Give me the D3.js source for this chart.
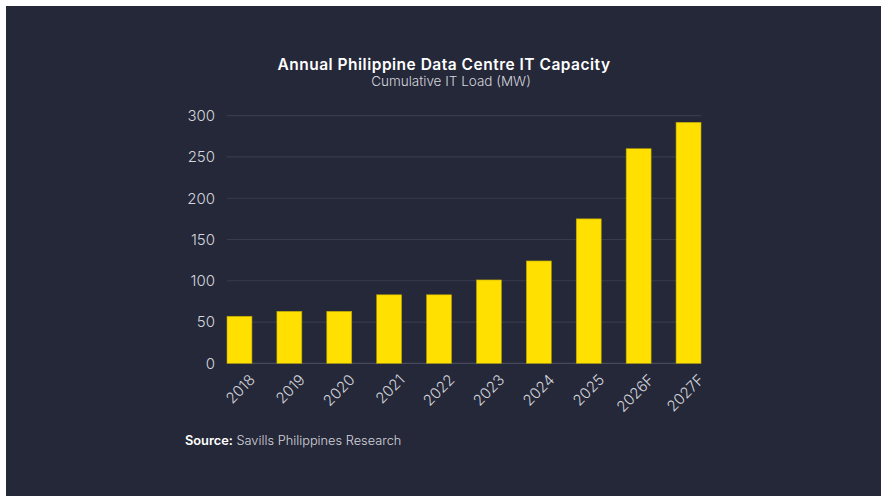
<!DOCTYPE html>
<html lang="en">
<head>
<meta charset="UTF-8">
<title>Annual Philippine Data Centre IT Capacity</title>
<script src="https://d3js.org/d3.v7.min.js"></script>
<style>
    body { margin: 0; background: #fff; }
    text { font-family: Inter, "Open Sans", sans-serif; }
</style>
</head>
<body>
<svg id="chart"></svg>
<script>
// chart data
const years = ['2018', '2019', '2020', '2021', '2022', '2023', '2024', '2025', '2026F', '2027F'];
const capacity = [57, 63, 63, 83, 83, 101, 124, 175, 260, 292];
const yTicks = [0, 50, 100, 150, 200, 250, 300];

const title = 'Annual Philippine Data Centre IT Capacity';
const subtitle = 'Cumulative IT Load (MW)';

const width = 884;
const height = 502;

const svg = d3.select('#chart')
    .attr('width', width)
    .attr('height', height);

// dark panel
svg.append('rect')
    .attr('x', 6).attr('y', 6)
    .attr('width', 875).attr('height', 490)
    .attr('fill', '#252839');

const x = d3.scaleBand()
    .domain(years)
    .range([227, 701])
    .paddingInner(0.5)
    .paddingOuter(0);

const y = d3.scaleLinear()
    .domain([0, 300])
    .range([363.3, 115.7]);

// gridlines
svg.append('g')
    .selectAll('line')
    .data(yTicks)
    .join('line')
    .attr('x1', 227).attr('x2', 701)
    .attr('y1', d => y(d)).attr('y2', d => y(d))
    .attr('stroke', d => d === 0 ? '#474a5c' : '#383b4e')
    .attr('stroke-width', 1.2);

// y axis labels
const yAxis = svg.append('g')
    .attr('transform', 'translate(227,0)')
    .call(d3.axisLeft(y).tickValues(yTicks).tickSize(0).tickPadding(12));
yAxis.select('.domain').remove();
yAxis.selectAll('text')
    .attr('fill', '#d4d5dc')
    .style('font-size', '15px')
    .style('font-weight', 300);

// bars
svg.append('g')
    .selectAll('rect')
    .data(capacity)
    .join('rect')
    .attr('x', (d, i) => x(years[i]))
    .attr('y', d => y(d))
    .attr('width', x.bandwidth())
    .attr('height', d => y(0) - y(d))
    .attr('fill', '#ffe000')
    .attr('stroke', '#b8a300')
    .attr('stroke-width', 0.6);

// x axis labels, rotated
const xAxis = svg.append('g')
    .attr('transform', `translate(0,${y(0)})`)
    .call(d3.axisBottom(x).tickSize(0).tickPadding(0));
xAxis.select('.domain').remove();
xAxis.selectAll('text')
    .attr('fill', '#d4d5dc')
    .style('font-size', '15px')
    .style('font-weight', 300)
    .attr('text-anchor', 'end')
    .attr('dy', null)
    .attr('y', 0)
    .attr('transform', 'translate(8,9) rotate(-45)')
    .attr('dominant-baseline', 'hanging');

// titles
svg.append('text')
    .attr('x', 444).attr('y', 70)
    .attr('text-anchor', 'middle')
    .attr('fill', '#ffffff')
    .style('font-size', '15.5px')
    .style('font-weight', 600)
    .style('letter-spacing', '0.5px')
    .text(title);

svg.append('text')
    .attr('x', 451).attr('y', 86)
    .attr('text-anchor', 'middle')
    .attr('fill', '#d4d5dc')
    .style('font-size', '13.5px')
    .style('font-weight', 300)
    .text(subtitle);

// source line
const src = svg.append('text')
    .attr('x', 185).attr('y', 445)
    .attr('fill', '#d4d5dc')
    .style('font-size', '12.8px')
    .style('font-weight', 300);
src.append('tspan').style('font-weight', 600).attr('fill', '#ffffff').text('Source:');
src.append('tspan').text(' Savills Philippines Research');
</script>
</body>
</html>
